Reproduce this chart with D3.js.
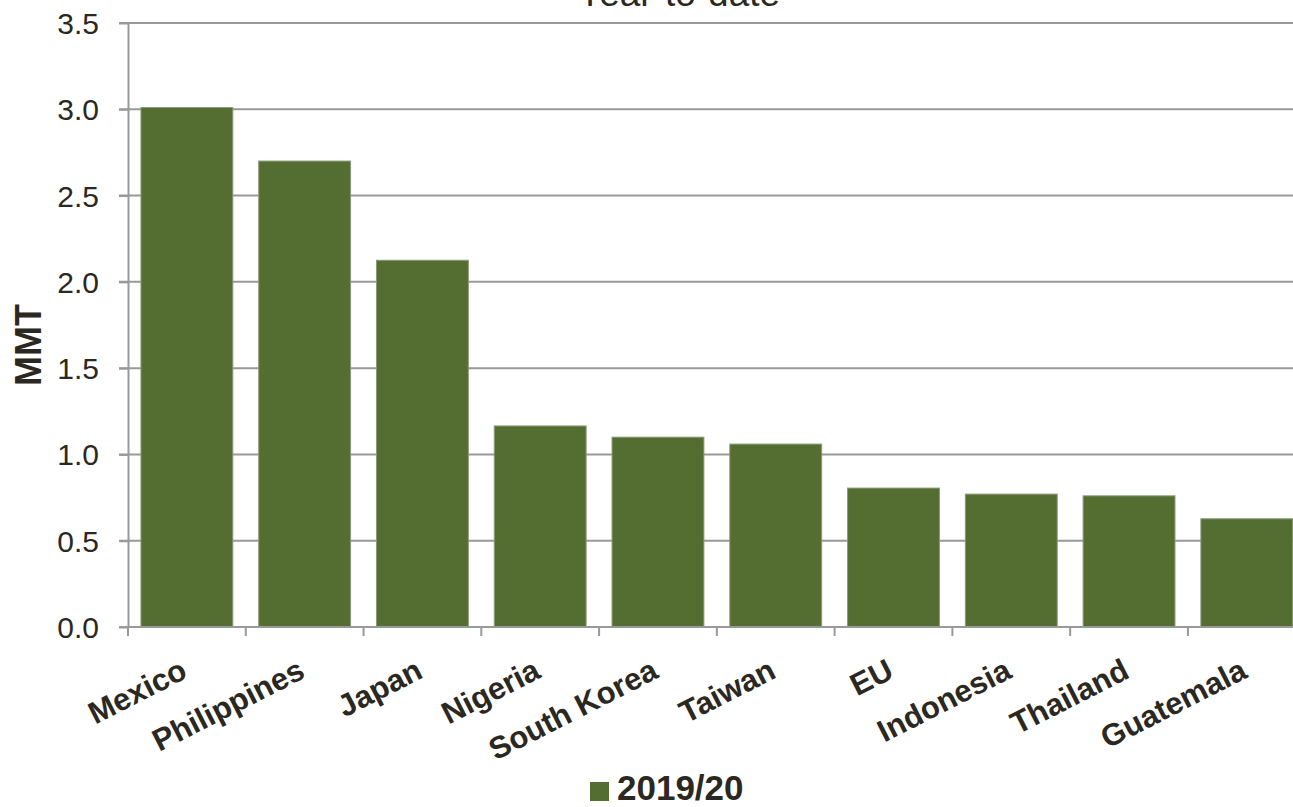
<!DOCTYPE html>
<html>
<head>
<meta charset="utf-8">
<script src="https://cdn.jsdelivr.net/npm/d3@7"></script>
<style>
  html, body { margin: 0; padding: 0; background: #fff; }
  svg { display: block; font-family: "Liberation Sans", Arial, Helvetica, sans-serif; }
</style>
</head>
<body>
<svg id="chart" width="1293" height="807"></svg>
<script>
const categories = ["Mexico", "Philippines", "Japan", "Nigeria", "South Korea", "Taiwan", "EU", "Indonesia", "Thailand", "Guatemala"];
const values2019 = [3.01, 2.70, 2.125, 1.165, 1.10, 1.06, 0.805, 0.77, 0.76, 0.627];
const yTicks = [0, 0.5, 1.0, 1.5, 2.0, 2.5, 3.0, 3.5];
const seriesName = "2019/20";
const titleText = "Year-to-date";
const yTitle = "MMT";

const svg = d3.select("#chart");
const textColor = "#2b2822";
const gridColor = "#999999";
const barColor = "#536e30";

const x = d3.scaleBand().domain(categories).range([128, 1305.7]).paddingInner(0.22).paddingOuter(0.11);
const y = d3.scaleLinear().domain([0, 3.5]).range([627, 23]);

// gridlines
svg.append("g").selectAll("line").data(yTicks.filter(d => d > 0)).join("line")
  .attr("x1", 119).attr("x2", 1310)
  .attr("y1", d => y(d)).attr("y2", d => y(d))
  .attr("stroke", gridColor).attr("stroke-width", 2);

// title (clipped at top, as in the reference)
svg.append("text").attr("x", 679).attr("y", 6).attr("text-anchor", "middle")
  .attr("font-size", 37).attr("fill", textColor).text(titleText);

// bars
svg.append("g").selectAll("rect").data(categories).join("rect")
  .attr("x", d => x(d)).attr("width", x.bandwidth())
  .attr("y", (d, i) => y(values2019[i]))
  .attr("height", (d, i) => y(0) - y(values2019[i]))
  .attr("fill", barColor).attr("stroke", "#8a9a78").attr("stroke-width", 1);

// y axis
const yAxis = d3.axisLeft(y).tickValues(yTicks).tickFormat(d3.format(".1f")).tickSize(9).tickPadding(20).tickSizeOuter(0);
const gy = svg.append("g").attr("transform", "translate(128,0)").call(yAxis);
gy.select(".domain").attr("stroke", gridColor).attr("stroke-width", 2);
gy.selectAll(".tick line").attr("stroke", gridColor).attr("stroke-width", 2);
gy.selectAll(".tick text").attr("font-size", 30).attr("fill", textColor)
  .attr("font-family", "'Liberation Sans', Arial, sans-serif").attr("dy", "0.35em");

// x axis line + boundary ticks
const step = x.step();
const x0 = x.range()[0];
svg.append("line").attr("x1", 119).attr("x2", 1310).attr("y1", y(0)).attr("y2", y(0))
  .attr("stroke", gridColor).attr("stroke-width", 2);
svg.append("g").selectAll("line").data(d3.range(categories.length + 1)).join("line")
  .attr("x1", i => x0 + i * step).attr("x2", i => x0 + i * step)
  .attr("y1", y(0)).attr("y2", y(0) + 9)
  .attr("stroke", gridColor).attr("stroke-width", 2);

// x labels
svg.append("g").selectAll("text").data(categories).join("text")
  .attr("transform", d => `translate(${x(d) + x.bandwidth() / 2 + 2},677) rotate(-27)`)
  .attr("text-anchor", "end").attr("font-size", 31).attr("font-weight", "bold")
  .attr("fill", textColor).text(d => d);

// y title
svg.append("text").attr("transform", "translate(41,345) rotate(-90)")
  .attr("text-anchor", "middle").attr("font-size", 36).attr("font-weight", "bold")
  .attr("fill", textColor).text(yTitle);

// legend
svg.append("rect").attr("x", 590).attr("y", 782).attr("width", 19).attr("height", 19).attr("fill", barColor);
svg.append("text").attr("x", 617).attr("y", 800).attr("font-size", 35).attr("font-weight", "bold")
  .attr("fill", textColor).text(seriesName);
</script>
</body>
</html>
